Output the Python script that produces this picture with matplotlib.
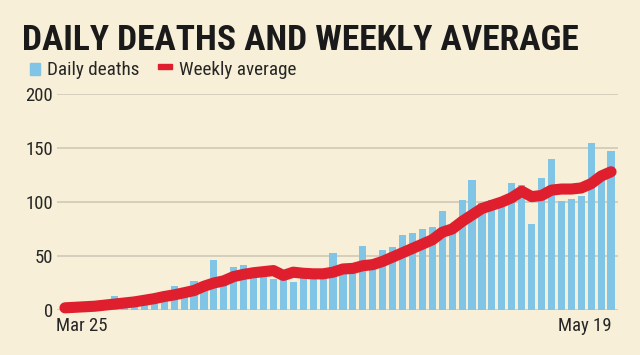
import matplotlib
matplotlib.use("Agg")
import matplotlib.pyplot as plt
from matplotlib import font_manager
from matplotlib.font_manager import FontProperties
from matplotlib.patches import Rectangle

title = "DAILY DEATHS AND WEEKLY AVERAGE"
legend_labels = ["Daily deaths", "Weekly average"]
x_labels = ["Mar 25", "May 19"]
y_ticks = [0, 50, 100, 150, 200]

daily_deaths = [1, 2, 2, 3, 5, 13, 4, 6, 9, 10,
                10, 22, 15, 27, 19, 46, 26, 40, 42, 35,
                33, 29, 28, 26, 30, 30, 29, 53, 33, 38,
                59, 44, 56, 58, 69, 71, 75, 77, 92, 72,
                102, 120, 99, 102, 95, 118, 116, 80, 122, 140,
                101, 103, 106, 155, 125, 147]
weekly_average = [2, 2.5, 3, 3.5, 4.5, 5.5, 6.5, 7.5, 9, 10.5,
                  12.5, 14, 16, 18, 22, 25, 27, 31, 33, 34.5,
                  35.5, 36.5, 32, 35, 34, 33.5, 33.5, 35, 38, 38.5,
                  41, 42, 45, 49, 53, 57, 61, 65, 72, 75,
                  82, 88, 94, 97, 100, 104, 110, 105, 106, 111,
                  112, 112, 113, 117, 124, 128]


def _w(f):
    w = f.weight
    if isinstance(w, str):
        return 700 if "bold" in w.lower() else 400
    return w


def find_font(bold):
    prefs = ["Liberation Sans Narrow", "Roboto Condensed", "Open Sans Condensed",
             "DejaVu Sans Condensed", "Noto Sans Condensed"]
    cands = []
    for f in font_manager.fontManager.ttflist:
        cond = ("Narrow" in f.name or "Condensed" in f.name or
                str(f.stretch) in ("condensed", "semi-condensed", "extra-condensed"))
        if not cond or f.style != "normal":
            continue
        wt = _w(f)
        if bold and wt < 600:
            continue
        if not bold and not (350 <= wt <= 450):
            continue
        rank = len(prefs)
        for i, p in enumerate(prefs):
            if f.name == p:
                rank = i
        if "DejaVu" in f.name:
            rank = min(rank, 3)
        cands.append((rank, f.fname))
    if cands:
        cands.sort()
        return FontProperties(fname=cands[0][1])
    fp = FontProperties(family=["Liberation Sans", "DejaVu Sans"])
    fp.set_weight("bold" if bold else "normal")
    return fp


FP_BOLD = find_font(True)
FP_REG = find_font(False)


def fp(base, size):
    p = base.copy()
    p.set_size(size)
    return p


BG = "#F7EFD7"
BLUE = "#80C4E6"
RED = "#DF1F2D"
GRID = "#D3CCB9"
TXT = "#262626"

W, H = 640, 355
fig = plt.figure(figsize=(W / 100, H / 100), dpi=100, facecolor=BG)
ax = fig.add_axes([57 / W, (H - 310) / H, 561 / W, 216 / H], facecolor=BG)

x = list(range(len(daily_deaths)))
ax.bar(x, daily_deaths, width=0.72, color=BLUE, zorder=2)
ax.plot(x, weekly_average, color=RED, lw=8, solid_capstyle="round",
        solid_joinstyle="round", zorder=3, clip_on=False)

ax.set_xlim(-0.8, len(x) - 0.3)
ax.set_ylim(0, 200)
ax.set_yticks(y_ticks)
ax.set_yticklabels([str(v) for v in y_ticks], fontproperties=fp(FP_REG, 13.5), color=TXT)
ax.tick_params(axis="y", length=0, pad=3)
ax.set_xticks([])
ax.grid(axis="y", color=GRID, lw=1.3, zorder=0)
for s in ax.spines.values():
    s.set_visible(False)

t_x0 = ax.annotate(x_labels[0], xy=(0, 0), xycoords=("data", "axes fraction"),
                   xytext=(-9, -7), textcoords="offset pixels", ha="left", va="top",
                   fontproperties=fp(FP_REG, 13.5), color=TXT)
t_x1 = ax.annotate(x_labels[1], xy=(len(x) - 1, 0), xycoords=("data", "axes fraction"),
                   xytext=(1, -7), textcoords="offset pixels", ha="right", va="top",
                   fontproperties=fp(FP_REG, 13.5), color=TXT)

t_title = fig.text(22 / W, 1 - 50 / H, title, fontproperties=fp(FP_BOLD, 29),
                   color="#1A1A1A", ha="left", va="baseline")

fig.patches.append(Rectangle((30 / W, 1 - 75 / H), 10 / W, 12 / H,
                             transform=fig.transFigure, color=BLUE))
t_l0 = fig.text(47 / W, 1 - 75 / H, legend_labels[0], fontproperties=fp(FP_REG, 13.8),
                color=TXT, ha="left", va="baseline")
fig.patches.append(Rectangle((158 / W, 1 - 69 / H), 14 / W, 5 / H,
                             transform=fig.transFigure, color=RED))
t_l1 = fig.text(179 / W, 1 - 75 / H, legend_labels[1], fontproperties=fp(FP_REG, 13.8),
                color=TXT, ha="left", va="baseline")

# fit title width to the reference width (pixels)
fig.canvas.draw()
r = fig.canvas.get_renderer()
for _ in range(3):
    w = t_title.get_window_extent(r).width
    t_title.set_fontsize(t_title.get_fontsize() * 556 / w)
    fig.canvas.draw()

fig.savefig("out.png", dpi=100, facecolor=BG)
